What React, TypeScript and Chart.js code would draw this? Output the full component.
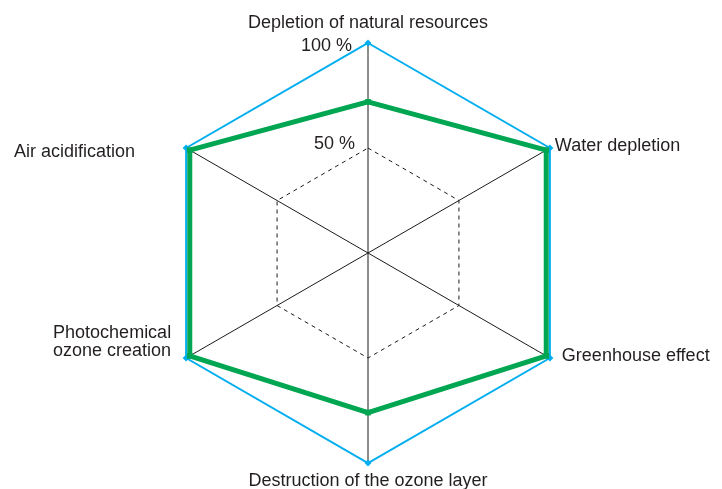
import React, { useEffect, useRef } from "react";
import { Chart, registerables } from "chart.js";

Chart.register(...registerables);

const categories: string[][] = [
  ["Depletion of natural resources"],
  ["Water depletion"],
  ["Greenhouse effect"],
  ["Destruction of the ozone layer"],
  ["Photochemical", "ozone creation"],
  ["Air acidification"],
];
const productValues = [72, 98, 98, 76, 98, 98];
const referenceValues = [100, 100, 100, 100, 100, 100];
const tickValues = [100, 50];
const tickLabels = ["100 %", "50 %"];

// label placement styles (align, dx, dy of baseline relative to axis end)
const labelStyles = [
  { align: "center", dx: 0, dy: -15 },
  { align: "left", dx: 5, dy: 3 },
  { align: "left", dx: 12, dy: 3 },
  { align: "center", dx: 0, dy: 23 },
  { align: "right", dx: -15, dy: -20.5 },
  { align: "right", dx: -51, dy: 9 },
];
const tickStyles = [
  { dx: -16, dy: 8 },
  { dx: -13, dy: 1 },
];

const TEXT = "#231f20";
const FONT = '18px "Liberation Sans", Arial, sans-serif';

const labelPlugin = {
  id: "customLabels",
  afterDraw(chart: any) {
    const s = chart.scales.r;
    const ctx = chart.ctx;
    ctx.save();
    ctx.font = FONT;
    ctx.fillStyle = TEXT;
    ctx.textBaseline = "alphabetic";
    categories.forEach((lines, i) => {
      const p = s.getPointPosition(i, s.drawingArea);
      const st = labelStyles[i];
      ctx.textAlign = st.align as CanvasTextAlign;
      lines.forEach((ln, j) => {
        ctx.fillText(ln, p.x + st.dx, p.y + st.dy + j * 18);
      });
    });
    ctx.textAlign = "right";
    tickValues.forEach((v, i) => {
      const d = s.getDistanceFromCenterForValue(v);
      ctx.fillText(tickLabels[i], s.xCenter + tickStyles[i].dx, s.yCenter - d + tickStyles[i].dy);
    });
    ctx.restore();
  },
};

export default function App() {
  const ref = useRef<HTMLCanvasElement>(null);
  useEffect(() => {
    if (!ref.current) return;
    const chart = new Chart(ref.current, {
      type: "radar",
      data: {
        labels: categories,
        datasets: [
          {
            label: "Product",
            data: productValues,
            borderColor: "#00a651",
            backgroundColor: "#00a651",
            borderWidth: 5,
            fill: false,
            pointStyle: "rect",
            pointRadius: 4,
            pointBorderWidth: 0,
            pointBackgroundColor: "#00a651",
          },
          {
            label: "Reference",
            data: referenceValues,
            borderColor: "#00aeef",
            backgroundColor: "#00aeef",
            borderWidth: 2,
            fill: false,
            pointStyle: "rectRot",
            pointRadius: 3.5,
            pointBorderWidth: 0,
            pointBackgroundColor: "#00aeef",
          },
        ],
      },
      options: {
        responsive: false,
        animation: false,
        devicePixelRatio: 1,
        layout: { padding: { top: 43, bottom: 26, left: 14, right: 0 } },
        plugins: { legend: { display: false }, tooltip: { enabled: false } },
        elements: { line: { tension: 0 } },
        scales: {
          r: {
            min: 0,
            max: 100,
            ticks: { display: false, stepSize: 50 },
            pointLabels: { display: false },
            angleLines: { display: true, color: "#1a1a1a", lineWidth: 1 },
            grid: {
              color: (c: any) => (c.tick && c.tick.value === 50 ? "#1a1a1a" : "rgba(0,0,0,0)"),
              lineWidth: 1,
            },
            border: { dash: [4, 4] },
          },
        },
      },
      plugins: [labelPlugin],
    } as any);
    return () => chart.destroy();
  }, []);
  return (
    <div style={{ position: "absolute", left: 0, top: 0, width: 722, height: 489, background: "#fff" }}>
      <canvas ref={ref} width={722} height={489} style={{ display: "block" }} />
    </div>
  );
}
